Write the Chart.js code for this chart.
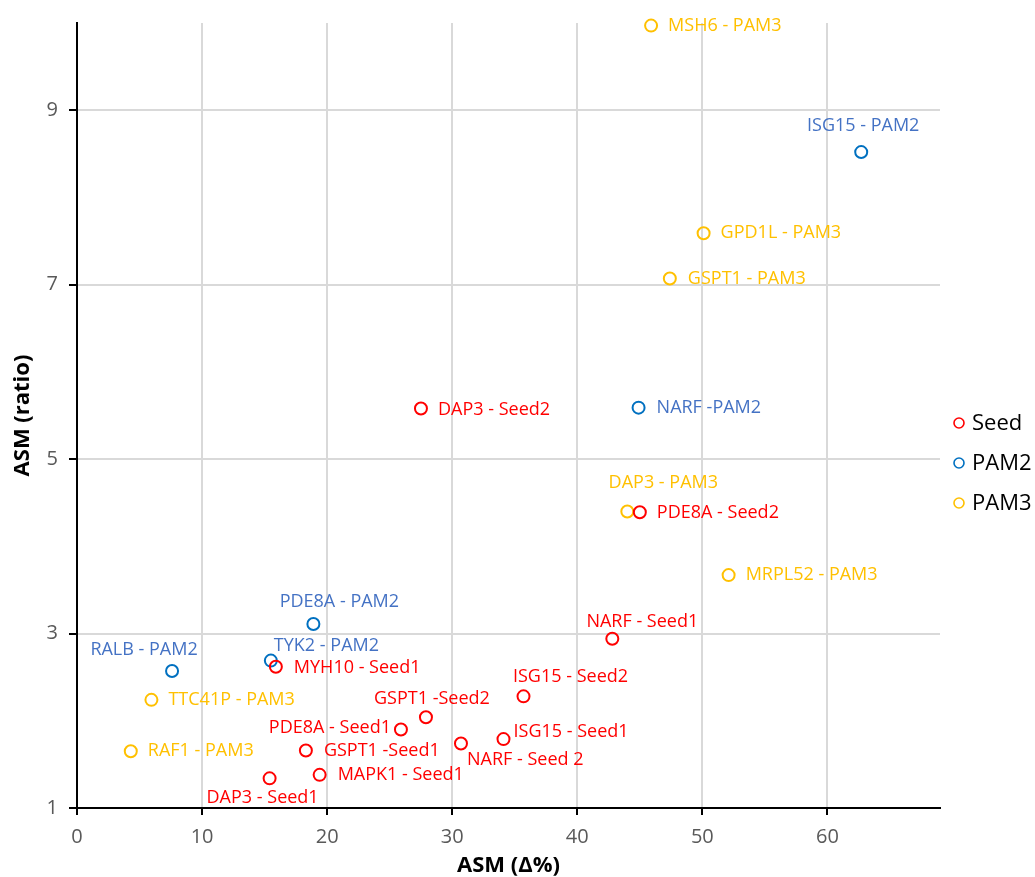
<!DOCTYPE html>
<html>
<head>
<meta charset="utf-8">
<title>ASM scatter</title>
<script src="https://cdn.jsdelivr.net/npm/chart.js@4.4.1/dist/chart.umd.min.js"></script>
<style>
    html, body { margin: 0; padding: 0; background: #fff; overflow: hidden; }
    #wrap { width: 1035px; height: 877px; }
</style>
</head>
<body>
<div id="wrap"><canvas id="asmChart" width="1035" height="877"></canvas></div>
<script>
// ============================================
// Data
// ============================================
var seedNames = ['DAP3 - Seed2', 'PDE8A - Seed2', 'NARF - Seed1', 'MYH10 - Seed1', 'ISG15 - Seed2', 'GSPT1 -Seed2',
    'PDE8A - Seed1', 'ISG15 - Seed1', 'NARF - Seed 2', 'GSPT1 -Seed1', 'MAPK1 - Seed1', 'DAP3 - Seed1'];
var seedX = [27.5, 45.0, 42.8, 15.9, 35.7, 27.9, 25.9, 34.1, 30.7, 18.3, 19.4, 15.4];
var seedY = [5.58, 4.39, 2.94, 2.62, 2.28, 2.04, 1.90, 1.79, 1.74, 1.66, 1.38, 1.34];

var pam2Names = ['ISG15 - PAM2', 'NARF -PAM2', 'PDE8A - PAM2', 'TYK2 - PAM2', 'RALB - PAM2'];
var pam2X = [62.7, 44.9, 18.9, 15.5, 7.6];
var pam2Y = [8.52, 5.59, 3.11, 2.69, 2.57];

var pam3Names = ['MSH6 - PAM3', 'GPD1L - PAM3', 'GSPT1 - PAM3', 'DAP3 - PAM3', 'MRPL52 - PAM3', 'TTC41P - PAM3', 'RAF1 - PAM3'];
var pam3X = [45.9, 50.1, 47.4, 44.0, 52.1, 5.95, 4.3];
var pam3Y = [9.97, 7.59, 7.07, 4.40, 3.67, 2.24, 1.65];

var seriesNames = ['Seed', 'PAM2', 'PAM3'];
var xTickValues = [0, 10, 20, 30, 40, 50, 60];
var yTickValues = [1, 3, 5, 7, 9];

// label placement next to each marker: [dx, dy, align]
var seedLabelPos = [[17, 1, 'left'], [17, 1, 'left'], [30, -17, 'center'], [18, 1, 'left'], [47, -19, 'center'], [6, -18, 'center'],
    [-10, -2, 'right'], [10, -7, 'left'], [6, 16, 'left'], [18, 0, 'left'], [18, 0, 'left'], [-7, 20, 'center']];
var pam2LabelPos = [[2, -26, 'center'], [18, 0, 'left'], [26, -22, 'center'], [3, -15, 'left'], [-28, -21, 'center']];
var pam3LabelPos = [[17, 0, 'left'], [17, 0, 'left'], [18, 0, 'left'], [36, -29, 'center'], [17, 0, 'left'], [17, 0, 'left'], [17, 0, 'left']];

// ============================================
// Helpers
// ============================================
var FONT = '"Open Sans", "Noto Sans", sans-serif';

function toPoints(xs, ys) {
    var pts = [];
    for (var i = 0; i < xs.length; i++) {
        pts.push({ x: xs[i], y: ys[i] });
    }
    return pts;
}

function makeSet(label, xs, ys, names, pos, markerColor, textColor) {
    return {
        label: label,
        data: toPoints(xs, ys),
        names: names,
        labelPos: pos,
        textColor: textColor,
        borderColor: markerColor,
        backgroundColor: 'rgba(0,0,0,0)',
        pointRadius: 6,
        pointHoverRadius: 6,
        pointBorderWidth: 2,
        clip: false
    };
}

// point labels drawn beside each marker
var pointLabelPlugin = {
    id: 'pointLabels',
    afterDatasetsDraw: function(chart) {
        var ctx = chart.ctx;
        ctx.save();
        ctx.font = '18px ' + FONT;
        ctx.textBaseline = 'middle';
        chart.data.datasets.forEach(function(ds, di) {
            var meta = chart.getDatasetMeta(di);
            meta.data.forEach(function(pt, i) {
                var p = ds.labelPos[i];
                ctx.fillStyle = ds.textColor;
                ctx.textAlign = p[2];
                ctx.fillText(ds.names[i], pt.x + p[0], pt.y + p[1]);
            });
        });
        ctx.restore();
    }
};

// legend on the right, circle + name
var sideLegendPlugin = {
    id: 'sideLegend',
    afterDraw: function(chart) {
        var ctx = chart.ctx;
        ctx.save();
        ctx.font = '22px ' + FONT;
        ctx.textBaseline = 'middle';
        ctx.textAlign = 'left';
        chart.data.datasets.forEach(function(ds, i) {
            var y = 423 + i * 40;
            ctx.beginPath();
            ctx.arc(959, y, 5, 0, Math.PI * 2);
            ctx.strokeStyle = ds.borderColor;
            ctx.lineWidth = 1.6;
            ctx.stroke();
            ctx.fillStyle = '#000';
            ctx.fillText(ds.label, 972, y + 1);
        });
        ctx.restore();
    }
};

function keepTicks(values) {
    return function(scale) {
        scale.ticks = values.map(function(v) { return { value: v }; });
    };
}

// ============================================
// Chart
// ============================================
var ctx = document.getElementById('asmChart');

new Chart(ctx, {
    type: 'scatter',
    data: {
        datasets: [
            makeSet(seriesNames[0], seedX, seedY, seedNames, seedLabelPos, '#FF0000', '#FF0000'),
            makeSet(seriesNames[1], pam2X, pam2Y, pam2Names, pam2LabelPos, '#0070C0', '#4472C4'),
            makeSet(seriesNames[2], pam3X, pam3Y, pam3Names, pam3LabelPos, '#FFC000', '#FFC000')
        ]
    },
    options: {
        responsive: false,
        animation: false,
        devicePixelRatio: 1,
        layout: {
            padding: { top: 20, right: 95, left: 0, bottom: 0 }
        },
        plugins: {
            legend: { display: false },
            tooltip: { enabled: false }
        },
        scales: {
            x: {
                type: 'linear',
                min: 0,
                max: 69,
                afterBuildTicks: keepTicks(xTickValues),
                afterFit: function(scale) { scale.height = 69; },
                border: { color: '#000', width: 2 },
                grid: {
                    color: '#d9d9d9',
                    lineWidth: 2,
                    tickColor: '#000',
                    tickLength: 7,
                    tickWidth: 2
                },
                ticks: {
                    color: '#595959',
                    font: { family: FONT, size: 20 },
                    padding: 10,
                    maxRotation: 0
                },
                title: {
                    display: true,
                    text: 'ASM (\u0394%)',
                    color: '#000',
                    font: { family: FONT, size: 22, weight: 'bold', lineHeight: 1 },
                    padding: { top: 0, bottom: 0 }
                }
            },
            y: {
                type: 'linear',
                min: 1,
                max: 10,
                afterBuildTicks: keepTicks(yTickValues),
                afterFit: function(scale) { scale.width = 77; },
                border: { color: '#000', width: 2 },
                grid: {
                    color: '#d9d9d9',
                    lineWidth: 2,
                    tickColor: '#000',
                    tickLength: 8,
                    tickWidth: 2
                },
                ticks: {
                    color: '#595959',
                    font: { family: FONT, size: 20 },
                    padding: 11
                },
                title: {
                    display: true,
                    text: 'ASM (ratio)',
                    color: '#000',
                    font: { family: FONT, size: 22, weight: 'bold', lineHeight: 1 },
                    padding: { top: 12, bottom: 0 }
                }
            }
        }
    },
    plugins: [pointLabelPlugin, sideLegendPlugin]
});
</script>
</body>
</html>
